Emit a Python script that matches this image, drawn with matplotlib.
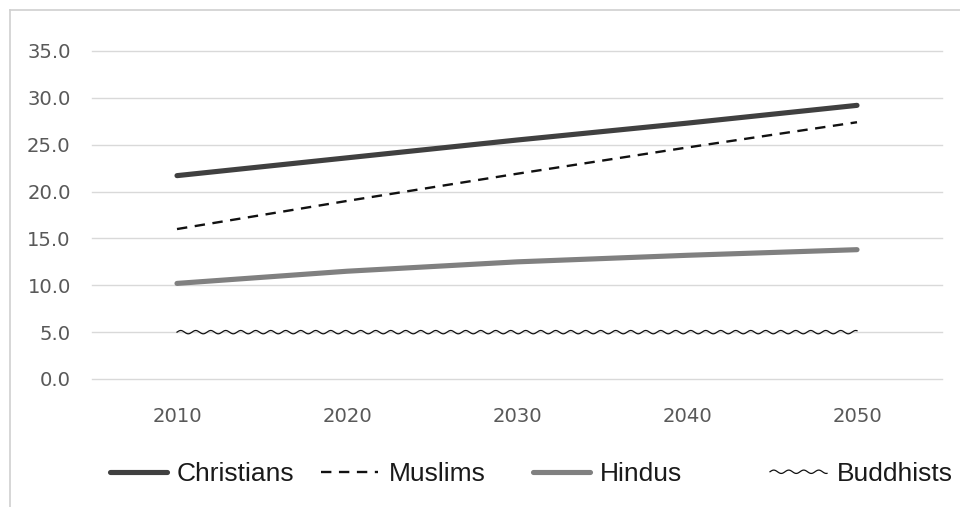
import numpy as np
import matplotlib
matplotlib.use("Agg")
import matplotlib.pyplot as plt
from matplotlib.patheffects import AbstractPathEffect
from matplotlib.path import Path
from matplotlib.transforms import IdentityTransform
from matplotlib.lines import Line2D

# ---- data ----
years = ["2010", "2020", "2030", "2040", "2050"]
christians = [21.7, 23.6, 25.5, 27.3, 29.2]
muslims = [16.0, 19.0, 21.9, 24.7, 27.4]
hindus = [10.2, 11.5, 12.5, 13.2, 13.8]
buddhists = [5.0, 5.0, 5.0, 5.0, 5.0]
series_names = ["Christians", "Muslims", "Hindus", "Buddhists"]
y_ticks = [0, 5, 10, 15, 20, 25, 30, 35]


class WavyStroke(AbstractPathEffect):
    """Draw the path as a sine wave around its centre line."""

    def __init__(self, period_pt=10.8, amp_pt=1.2):
        super().__init__()
        self.period_pt = period_pt
        self.amp_pt = amp_pt

    def draw_path(self, renderer, gc, tpath, affine, rgbFace=None):
        verts = affine.transform(tpath.vertices)
        period = renderer.points_to_pixels(self.period_pt)
        amp = renderer.points_to_pixels(self.amp_pt)
        seg = np.diff(verts, axis=0)
        seglen = np.hypot(seg[:, 0], seg[:, 1])
        cum = np.concatenate([[0], np.cumsum(seglen)])
        total = cum[-1]
        if total <= 0:
            return
        s = np.linspace(0, total, max(int(total * 2), 2))
        x = np.interp(s, cum, verts[:, 0])
        y = np.interp(s, cum, verts[:, 1])
        idx = np.clip(np.searchsorted(cum, s, side="right") - 1, 0, len(seg) - 1)
        safe = np.where(seglen[idx] == 0, 1, seglen[idx])
        tx = seg[idx, 0] / safe
        ty = seg[idx, 1] / safe
        nx, ny = -ty, tx
        off = amp * np.sin(2 * np.pi * s / period)
        new = np.column_stack([x + nx * off, y + ny * off])
        renderer.draw_path(gc, Path(new), IdentityTransform(), rgbFace)


W, H = 960, 507
fig = plt.figure(figsize=(W / 100, H / 100), dpi=100)
ax = fig.add_axes([92 / W, 1 - 379 / H, (942 - 92) / W, (379 - 51) / H])

x = np.arange(len(years))
l1, = ax.plot(x, christians, color="#404040", lw=3.7, solid_capstyle="round",
              label=series_names[0], zorder=4)
l2, = ax.plot(x, muslims, color="#111111", lw=1.7, dashes=(4.4, 3.2),
              dash_capstyle="butt", label=series_names[1], zorder=4)
l3, = ax.plot(x, hindus, color="#808080", lw=3.7, solid_capstyle="round",
              label=series_names[2], zorder=4)
l4, = ax.plot(x, buddhists, color="#111111", lw=0.9,
              label=series_names[3], zorder=4)
l4.set_path_effects([WavyStroke()])

ax.set_xlim(-0.5, len(years) - 0.5)
ax.set_ylim(0, 35)
ax.set_yticks(y_ticks)
ax.set_yticklabels([f"{v:.1f}" for v in y_ticks])
ax.set_xticks(x)
ax.set_xticklabels(years)
ax.grid(axis="y", color="#D9D9D9", lw=1.0)
for gl in ax.get_ygridlines():
    gl.set_clip_on(False)
ax.set_axisbelow(True)
for sp in ax.spines.values():
    sp.set_visible(False)
ax.tick_params(axis="y", length=0, pad=15.3, labelsize=14.1, labelcolor="#595959")
ax.tick_params(axis="x", length=0, pad=20, labelsize=14.1, labelcolor="#595959")
for lab in ax.get_xticklabels() + ax.get_yticklabels():
    lab.set_fontfamily(["DejaVu Sans"])

# chart frame (left and top edges visible in crop)
fig.add_artist(Line2D([10 / W, 10 / W], [0, 1 - 10 / H], transform=fig.transFigure,
                      color="#D0D0D0", lw=1.2))
fig.add_artist(Line2D([10 / W, 1], [1 - 10 / H, 1 - 10 / H], transform=fig.transFigure,
                      color="#D0D0D0", lw=1.2))

# legend: one entry per position, like the original layout
fs = 19
em = fs * 100 / 72
leg_specs = [
    (l1, 110, 57, 10),
    (l2, 321, 57, 11),
    (l3, 533, 57, 10),
    (l4, 770, 57, 10),
]
ly = 1 - 474 / H
for h, x0, hl, tp in leg_specs:
    lg = fig.legend(handles=[h], loc="center left", bbox_to_anchor=(x0 / W, ly),
                    frameon=False, borderpad=0, borderaxespad=0,
                    handlelength=hl / em, handletextpad=tp / em,
                    prop={"family": ["Liberation Sans", "DejaVu Sans"], "size": fs})
    for t in lg.get_texts():
        t.set_color("#1a1a1a")

fig.savefig("out.png", dpi=100)
